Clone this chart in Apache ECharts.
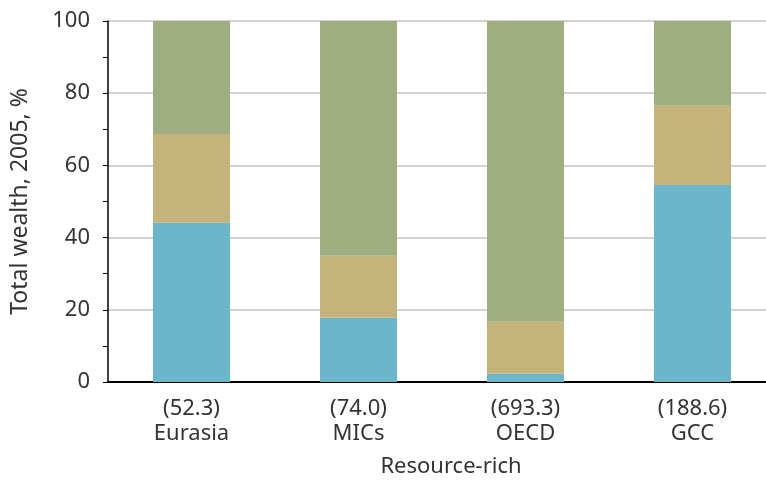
<!DOCTYPE html>
<html>
<head>
<meta charset="utf-8">
<script src="https://cdn.jsdelivr.net/npm/echarts@6/dist/echarts.min.js"></script>
<style>
  html, body { margin: 0; padding: 0; background: #fff; }
  #main { width: 766px; height: 480px; }
</style>
</head>
<body>
<div id="main"></div>
<script>
  // categories with total wealth in brackets
  var regions = ['Eurasia', 'MICs', 'OECD', 'GCC'];
  var totals = ['52.3', '74.0', '693.3', '188.6'];
  // shares of total wealth, %
  var natural = [44.1, 17.8, 2.3, 54.6];
  var produced = [24.6, 17.2, 14.4, 21.9];
  var intangible = [31.3, 65.0, 83.3, 23.5];

  var font = 'Noto Sans';
  var myChart = echarts.init(document.getElementById('main'));

  myChart.setOption({
    animation: false,
    grid: { left: 108, top: 21, bottom: 98, width: 668, outerBoundsMode: 'none', containLabel: false },
    xAxis: {
      type: 'category',
      data: regions.map(function (r, i) { return '(' + totals[i] + ')\n' + r; }),
      name: 'Resource-rich',
      nameLocation: 'middle',
      nameGap: 74,
      nameTextStyle: { fontFamily: font, fontSize: 22, color: '#333', padding: [0, 0, 0, 18] },
      axisLine: { lineStyle: { color: '#000', width: 2 } },
      axisTick: { length: 5, lineStyle: { color: '#333' } },
      axisLabel: { fontFamily: font, fontSize: 22, color: '#333', lineHeight: 25, margin: 14 }
    },
    yAxis: {
      type: 'value',
      min: 0,
      max: 100,
      interval: 20,
      name: 'Total wealth, 2005, %',
      nameLocation: 'middle',
      nameGap: 76,
      nameTextStyle: { fontFamily: font, fontSize: 23, color: '#333' },
      axisLine: { show: true, lineStyle: { color: '#000', width: 1.5 } },
      axisTick: { show: true, length: 5, lineStyle: { color: '#000' } },
      minorTick: { show: true, splitNumber: 2, length: 5, lineStyle: { color: '#000' } },
      axisLabel: { fontFamily: font, fontSize: 22, color: '#333', margin: 18 },
      splitLine: { lineStyle: { color: '#d3d3d3', width: 2 } }
    },
    series: [
      { name: 'Natural capital', type: 'bar', stack: 'w', barWidth: 77, data: natural, itemStyle: { color: '#6cb6cb' } },
      { name: 'Produced capital', type: 'bar', stack: 'w', data: produced, itemStyle: { color: '#c4b37b' } },
      { name: 'Intangible capital', type: 'bar', stack: 'w', data: intangible, itemStyle: { color: '#9fae80' } }
    ]
  });
</script>
</body>
</html>
